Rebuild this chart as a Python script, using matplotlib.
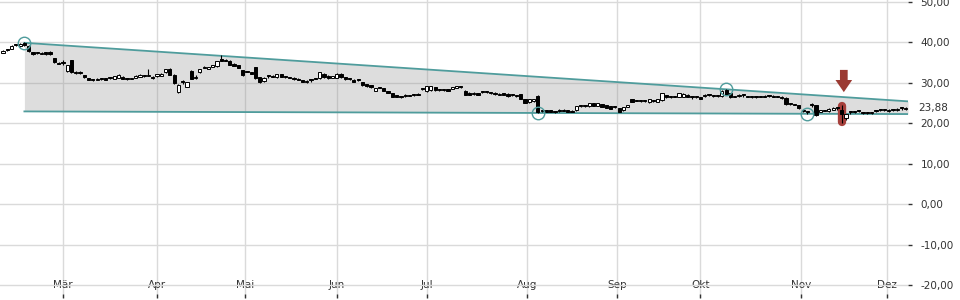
import matplotlib
matplotlib.use("Agg")
import matplotlib.pyplot as plt
import numpy as np
from matplotlib.patches import FancyArrow

# daily candles, one entry per trading day (index = position on x axis)
opens = [
    37.5, 38.2, 38.4, 39.3, 39.0, 39.9, 39.2, 37.6, 37.3, 37.2,
    37.6, 37.7, 36.1, 34.8, 35.0, 32.9, 35.6, 32.4, 32.8, 31.9,
    31.1, 30.8, 30.7, 31.0, 31.2, 31.1, 31.0, 31.2, 31.5, 30.9,
    31.0, 31.2, 31.5, 31.6, 31.7, 31.4, 31.6, 31.8, 32.6, 33.5,
    32.0, 27.8, 30.2, 29.0, 33.0, 31.3, 32.6, 33.7, 33.4, 34.0,
    34.1, 36.0, 35.6, 35.5, 34.7, 34.3, 33.1, 32.8, 32.6, 33.8,
    31.4, 30.4, 31.6, 31.8, 31.4, 32.2, 31.4, 31.3, 31.3, 31.0,
    30.7, 30.1, 30.6, 31.1, 31.1, 32.3, 31.8, 31.2, 31.2, 32.3,
    31.4, 30.9, 30.8, 30.6, 30.2, 29.7, 29.4, 28.0, 28.8, 28.7,
    28.0, 27.4, 26.9, 26.4, 27.1, 27.0, 27.0, 27.3, 28.4, 27.9,
    28.2, 28.9, 28.2, 28.2, 28.4, 28.5, 28.7, 28.9, 28.1, 27.6,
    27.2, 27.5, 27.7, 27.7, 27.5, 27.6, 27.0, 27.4, 27.3, 26.9,
    26.7, 27.2, 26.0, 25.2, 25.4, 26.7, 23.0, 23.2, 23.2, 22.7,
    23.4, 23.4, 23.2, 23.1, 23.2, 24.2, 24.3, 24.2, 24.9, 24.3,
    24.7, 24.5, 24.2, 24.0, 23.7, 23.2, 24.0, 25.9, 25.7, 25.4,
    25.4, 25.2, 25.4, 25.3, 25.7, 26.9, 26.5, 26.7, 26.6, 26.6,
    27.1, 26.4, 26.5, 26.4, 26.7, 27.0, 27.0, 26.8, 26.7, 28.3,
    27.4, 26.5, 26.7, 26.9, 26.6, 26.6, 26.6, 26.6, 26.8, 26.7,
    26.8, 26.7, 26.6, 26.2, 24.8, 24.6, 24.4, 23.4, 22.9, 24.5,
    24.4, 22.9, 23.3, 23.0, 23.4, 23.7, 23.2, 21.4, 22.7, 22.7,
    23.0, 22.5, 22.5, 22.5, 23.0, 23.2, 23.2, 23.0, 23.2, 23.2,
    23.7, 23.5,
]
highs = [
    38.0, 38.3, 39.4, 39.5, 39.8, 40.1, 39.3, 37.7, 37.5, 37.6,
    37.7, 37.8, 36.2, 35.2, 35.6, 34.5, 35.7, 33.0, 33.0, 32.0,
    31.2, 31.0, 31.2, 31.2, 31.3, 31.4, 31.8, 32.1, 31.6, 31.1,
    31.3, 31.9, 32.2, 31.9, 33.4, 31.7, 32.3, 32.5, 33.5, 33.6,
    32.1, 29.6, 30.6, 30.3, 33.1, 31.9, 33.5, 34.2, 34.0, 34.5,
    35.5, 36.9, 35.8, 35.6, 34.8, 34.4, 33.2, 33.0, 32.7, 34.0,
    31.5, 31.4, 31.9, 31.9, 32.3, 32.3, 31.6, 31.4, 31.4, 31.1,
    30.8, 30.7, 30.9, 31.2, 32.7, 32.4, 31.9, 31.8, 32.5, 32.4,
    31.5, 31.1, 30.9, 30.9, 30.3, 29.8, 29.5, 28.7, 29.0, 28.8,
    28.1, 27.5, 27.0, 26.5, 27.2, 27.1, 27.3, 27.4, 28.5, 29.2,
    29.3, 29.0, 28.3, 28.3, 28.5, 29.0, 29.2, 29.0, 28.2, 27.7,
    27.7, 27.6, 27.9, 27.9, 27.6, 27.7, 27.4, 27.5, 27.4, 27.0,
    26.8, 27.3, 26.1, 26.1, 26.1, 26.9, 23.1, 23.3, 23.3, 22.8,
    23.5, 23.5, 23.3, 23.2, 24.3, 24.3, 24.4, 25.0, 25.0, 25.0,
    24.8, 24.6, 24.3, 24.1, 23.8, 24.0, 24.6, 26.0, 25.8, 25.5,
    25.5, 26.0, 25.6, 26.0, 27.6, 27.0, 26.6, 26.8, 27.5, 27.4,
    27.2, 26.7, 26.6, 26.5, 27.2, 27.1, 27.1, 26.9, 28.2, 28.5,
    27.5, 26.7, 27.2, 27.2, 26.7, 26.7, 26.7, 26.7, 26.9, 26.8,
    26.9, 26.8, 26.7, 26.6, 24.9, 24.7, 24.5, 23.5, 23.0, 25.1,
    24.5, 23.4, 23.4, 23.7, 23.9, 24.0, 24.5, 22.4, 23.0, 22.8,
    23.3, 22.8, 22.8, 22.8, 23.1, 23.3, 23.3, 23.5, 23.3, 23.7,
    24.0, 24.0,
]
lows = [
    37.3, 37.8, 38.3, 39.1, 38.9, 39.2, 37.6, 37.0, 37.1, 37.1,
    37.0, 37.0, 35.0, 34.6, 34.3, 32.8, 32.5, 32.2, 32.2, 31.2,
    30.6, 30.5, 30.6, 30.8, 30.6, 31.0, 30.9, 31.1, 30.9, 30.7,
    30.9, 31.1, 31.4, 31.4, 31.6, 31.0, 31.5, 31.7, 32.5, 31.9,
    29.8, 27.4, 29.8, 28.9, 30.9, 31.0, 32.5, 33.6, 33.3, 33.9,
    34.0, 35.4, 35.3, 34.3, 34.1, 33.6, 31.8, 32.6, 32.1, 31.0,
    30.0, 30.3, 31.3, 31.4, 31.3, 31.4, 31.3, 31.1, 30.8, 30.6,
    30.1, 30.0, 30.3, 30.9, 31.0, 31.3, 31.0, 31.1, 31.1, 31.3,
    30.8, 30.8, 30.1, 30.4, 29.3, 29.0, 28.8, 27.9, 28.7, 27.9,
    27.4, 26.4, 26.4, 26.2, 26.6, 26.7, 26.8, 27.0, 28.2, 27.8,
    28.1, 28.1, 28.1, 28.1, 27.9, 28.4, 28.6, 28.8, 26.9, 27.0,
    27.1, 27.0, 27.6, 27.6, 27.3, 27.1, 26.9, 26.9, 26.6, 26.8,
    26.6, 25.9, 25.0, 25.1, 25.3, 22.5, 22.8, 22.7, 22.8, 22.6,
    22.9, 23.0, 22.8, 22.7, 23.1, 24.0, 24.1, 24.1, 24.2, 24.2,
    24.0, 23.7, 23.5, 23.8, 22.8, 23.1, 23.9, 25.2, 25.4, 25.2,
    25.2, 25.1, 25.3, 25.2, 25.6, 26.3, 26.3, 26.4, 26.5, 26.5,
    26.4, 26.1, 26.3, 25.9, 26.6, 26.8, 26.6, 26.6, 26.6, 26.9,
    26.3, 26.4, 26.6, 26.6, 26.5, 26.3, 26.3, 26.5, 26.4, 26.6,
    26.5, 26.4, 26.1, 24.6, 24.6, 24.4, 23.6, 22.9, 22.4, 24.0,
    21.9, 22.8, 23.0, 22.9, 23.3, 23.4, 20.0, 20.9, 22.4, 22.6,
    22.7, 22.2, 22.2, 22.4, 22.9, 23.1, 23.1, 22.9, 23.1, 23.1,
    23.4, 23.4,
]
closes = [
    37.9, 38.0, 39.2, 39.3, 39.6, 39.3, 37.8, 37.2, 37.3, 37.4,
    37.1, 37.1, 35.1, 34.7, 34.9, 34.4, 32.6, 32.8, 32.4, 31.4,
    30.8, 30.7, 31.0, 31.0, 30.8, 31.2, 31.6, 31.9, 31.0, 30.9,
    31.1, 31.7, 31.9, 31.6, 31.8, 31.3, 32.1, 32.3, 33.3, 32.0,
    30.0, 29.4, 30.2, 30.1, 31.0, 31.5, 33.3, 34.0, 33.8, 34.3,
    35.3, 35.5, 35.5, 34.4, 34.2, 33.7, 31.9, 32.8, 32.2, 31.1,
    30.1, 31.3, 31.6, 31.5, 32.2, 31.5, 31.4, 31.2, 30.9, 30.8,
    30.2, 30.5, 30.6, 31.0, 32.6, 31.4, 31.1, 31.6, 32.3, 31.4,
    30.9, 30.9, 30.2, 30.6, 29.4, 29.1, 28.9, 28.6, 28.8, 28.0,
    27.5, 26.5, 26.5, 26.4, 26.7, 26.8, 27.0, 27.1, 28.4, 29.1,
    29.1, 28.2, 28.2, 28.2, 28.0, 28.9, 29.1, 28.9, 27.0, 27.1,
    27.6, 27.1, 27.7, 27.7, 27.5, 27.2, 27.3, 27.0, 26.7, 26.9,
    26.7, 26.0, 25.1, 26.0, 26.0, 22.7, 23.0, 22.8, 22.9, 22.7,
    23.0, 23.1, 22.9, 22.8, 24.2, 24.2, 24.3, 24.9, 24.3, 24.9,
    24.1, 23.8, 23.6, 24.0, 22.9, 23.9, 24.5, 25.3, 25.5, 25.4,
    25.4, 25.9, 25.4, 25.9, 27.4, 26.4, 26.5, 26.5, 27.4, 27.3,
    26.5, 26.4, 26.5, 26.0, 27.1, 27.0, 26.7, 26.8, 28.1, 27.0,
    26.4, 26.6, 27.1, 26.9, 26.6, 26.4, 26.4, 26.6, 26.5, 26.7,
    26.6, 26.5, 26.2, 24.7, 24.8, 24.6, 23.7, 23.0, 22.9, 24.5,
    22.0, 23.3, 23.1, 23.6, 23.8, 23.7, 22.2, 22.3, 22.7, 22.7,
    23.0, 22.5, 22.5, 22.7, 23.0, 23.2, 23.2, 23.4, 23.2, 23.6,
    23.7, 23.88,
]

months = ["Mär", "Apr", "Mai", "Jun", "Jul", "Aug", "Sep", "Okt", "Nov", "Dez"]
month_idx = [14, 36, 56.5, 78, 99, 122.5, 143.5, 163, 186.5, 206.5]

# triangle pivots (index, price)
upper_pts = [(5, 39.9), (169, 28.4)]
lower_pts = [(125, 22.55), (188, 22.35)]
signal_idx = 196
last_price = closes[-1]

teal = "#4f9c9c"
grid_c = "#dadada"
txt_c = "#333333"

fig = plt.figure(figsize=(9.6, 3.0), dpi=100)
ax = fig.add_axes([0, 2 / 300, 908 / 960, 298 / 300])
ax.set_xlim(-0.7, 211.5)
ax.set_ylim(-23.22, 50.49)

for s in ax.spines.values():
    s.set_visible(False)

# grid
ax.set_yticks(np.arange(-20, 51, 10))
ax.set_yticklabels([f"{v:.2f}".replace(".", ",") for v in np.arange(-20, 51, 10)])
ax.set_xticks(month_idx)
ax.set_xticklabels(months)
ax.grid(True, color=grid_c, linewidth=1)
ax.set_axisbelow(True)
ax.yaxis.tick_right()
ax.tick_params(axis="y", length=3, width=1, color=txt_c, pad=6,
               labelsize=7.5, labelcolor=txt_c)
ax.tick_params(axis="x", direction="in", length=3, width=1, color=txt_c,
               pad=-13, labelsize=7.5, labelcolor=txt_c)

# triangle
def line_at(pts, xs):
    (x1, y1), (x2, y2) = pts
    return y1 + (y2 - y1) * (xs - x1) / (x2 - x1)

xs = np.array([upper_pts[0][0], 211.5])
up = line_at(upper_pts, xs)
lo = line_at(lower_pts, xs)
ax.fill_between(xs, lo, up, color="#919191", alpha=0.3, linewidth=0, zorder=1)
ax.plot(xs, up, color=teal, lw=1.3, zorder=2)
ax.plot(xs, lo, color=teal, lw=1.3, zorder=2)
piv = upper_pts + lower_pts
ax.plot([p[0] for p in piv], [p[1] for p in piv], "o", ms=9, mfc="none",
        mec=teal, mew=1, zorder=5)

# signal highlight and arrow
ax.plot([signal_idx, signal_idx], [lows[signal_idx] + 0.4, highs[signal_idx] - 0.3],
        color="#a6403c", lw=6, solid_capstyle="round", zorder=3)
ax.add_patch(FancyArrow(signal_idx + 0.5, 33.2, 0, -2.5, width=1.8,
                        head_width=3.9, head_length=3.0,
                        length_includes_head=False, color="#9b3a32",
                        lw=0, zorder=6))

# candles
idx = np.arange(len(closes))
o = np.array(opens)
c = np.array(closes)
h = np.array(highs)
l = np.array(lows)
ax.vlines(idx, l, h, color="black", lw=0.8, zorder=4)
body_lo = np.minimum(o, c)
body_h = np.maximum(np.abs(c - o), 0.25)
face = np.where(c > o, "white", "black")
ax.bar(idx, body_h, bottom=body_lo, width=0.75, color=face,
       edgecolor="black", linewidth=0.7, zorder=4)

ax.annotate(f"{last_price:.2f}".replace(".", ","), xy=(1, last_price),
            xycoords=("axes fraction", "data"), xytext=(7.5, 0),
            textcoords="offset points", va="center", ha="left",
            fontsize=7.5, color=txt_c, annotation_clip=False)

fig.savefig("out.png", dpi=100)
